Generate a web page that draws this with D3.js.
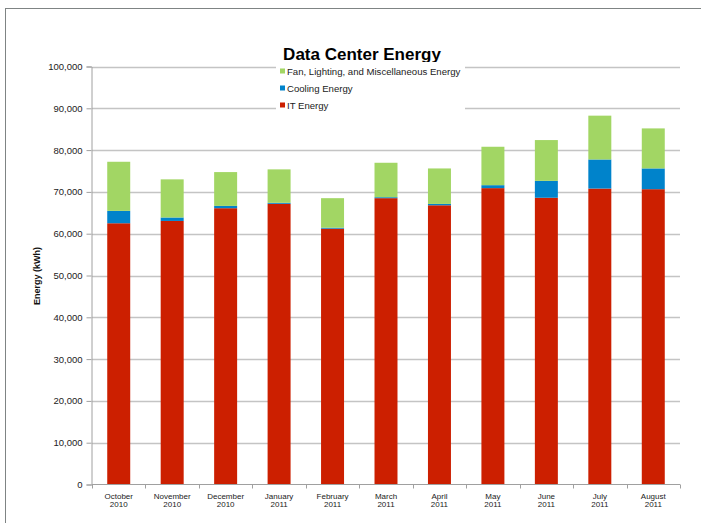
<!DOCTYPE html>
<html><head><meta charset="utf-8">
<script src="https://cdn.jsdelivr.net/npm/d3@7/dist/d3.min.js"></script>
<style>body{margin:0;background:#fff}svg{display:block;font-family:"Liberation Sans",Arial,sans-serif}</style>
</head><body>
<svg id="c" width="701" height="523"></svg>
<script>
const months = ["October","November","December","January","February","March","April","May","June","July","August"];
const years = ["2010","2010","2010","2011","2011","2011","2011","2011","2011","2011","2011"];
const itEnergy = [62500,63050,66100,67150,61200,68500,66800,70900,68600,70800,70650];
const coolingEnergy = [2960,830,550,240,230,230,320,710,4040,6960,4970];
const fanEnergy = [11750,9120,8090,8000,7070,8240,8490,9190,9760,10480,9570];
const yTicks = [0,10000,20000,30000,40000,50000,60000,70000,80000,90000,100000];
const seriesNames = ["IT Energy","Cooling Energy","Fan, Lighting, and Miscellaneous Energy"];
const seriesColors = ["#CC1F00","#0083CB","#A2D664"];

const svg = d3.select("#c");
// outer frame
svg.append("rect").attr("x",5.5).attr("y",8.5).attr("width",720).attr("height",540)
  .attr("fill","none").attr("stroke","#7f8484").attr("stroke-width",1);

const L=92, R=680, T=66.5, B=484.5;
const x = d3.scaleBand().domain(months.map((m,i)=>i)).range([L,R]).paddingInner(0.57).paddingOuter(0.285);
const xb = d3.scaleBand().domain(months.map((m,i)=>i)).range([L,R]);
const y = d3.scaleLinear().domain([0,100000]).range([B,T]);

// gridlines
svg.append("g").selectAll("line").data(yTicks.slice(1)).join("line")
  .attr("x1",L).attr("x2",R).attr("y1",d=>Math.round(y(d))+0.5).attr("y2",d=>Math.round(y(d))+0.5)
  .attr("stroke","#c4c4c4").attr("stroke-width",1.4);

const table = months.map((m,i)=>({i, it:itEnergy[i], cool:coolingEnergy[i], fan:fanEnergy[i]}));
const stack = d3.stack().keys(["it","cool","fan"])(table);
svg.append("g").selectAll("g").data(stack).join("g").attr("fill",(d,k)=>seriesColors[k])
  .selectAll("rect").data(d=>d).join("rect")
  .attr("x",d=>x(d.data.i)).attr("width",x.bandwidth())
  .attr("y",d=>y(d[1])).attr("height",d=>y(d[0])-y(d[1]));

// y axis
const ya = svg.append("g").attr("transform",`translate(${L-0.5},0)`)
  .call(d3.axisLeft(y).tickValues(yTicks).tickSize(5).tickPadding(4).tickFormat(d3.format(",")));
ya.select(".domain").attr("stroke","#a0a0a0");
ya.selectAll(".tick line").attr("stroke","#a0a0a0");
ya.selectAll("text").attr("font-size",9.5).attr("fill","#222").attr("font-family","Liberation Sans, Arial, sans-serif");

// x axis
const xa = svg.append("g").attr("transform",`translate(0,${B})`);
xa.append("line").attr("x1",L).attr("x2",R).attr("stroke","#a0a0a0");
xa.selectAll("line.t").data(d3.range(12)).join("line").attr("class","t")
  .attr("x1",d=>Math.round(L+d*xb.step())+0.5).attr("x2",d=>Math.round(L+d*xb.step())+0.5)
  .attr("y1",0).attr("y2",4).attr("stroke","#a0a0a0");
const lab = xa.selectAll("text").data(months).join("text")
  .attr("text-anchor","middle").attr("font-size",8).attr("fill","#222")
  .attr("transform",(d,i)=>`translate(${xb(i)+xb.bandwidth()/2},0)`);
lab.append("tspan").attr("x",0).attr("y",14).text(d=>d);
lab.append("tspan").attr("x",0).attr("y",22).text((d,i)=>years[i]);

// y label
svg.append("text").attr("transform","translate(40,276) rotate(-90)").attr("text-anchor","middle")
  .attr("font-size",9).attr("font-weight","bold").attr("fill","#111").text("Energy (kWh)");

// title
svg.append("text").attr("x",362).attr("y",59.5).attr("text-anchor","middle")
  .attr("font-size",17).attr("font-weight","bold").attr("fill","#000").text("Data Center Energy");

// legend
const lg = svg.append("g");
lg.append("rect").attr("x",276).attr("y",62).attr("width",189).attr("height",52).attr("fill","#fff");
const order=[2,1,0], ly=[72,89,106];
order.forEach((k,j)=>{
  lg.append("rect").attr("x",280).attr("y",ly[j]-3.5).attr("width",5).attr("height",5).attr("fill",seriesColors[k]);
  lg.append("text").attr("x",287).attr("y",ly[j]+3.2).attr("font-size",9.6).attr("fill","#222").text(seriesNames[k]);
});
</script>
</body></html>
